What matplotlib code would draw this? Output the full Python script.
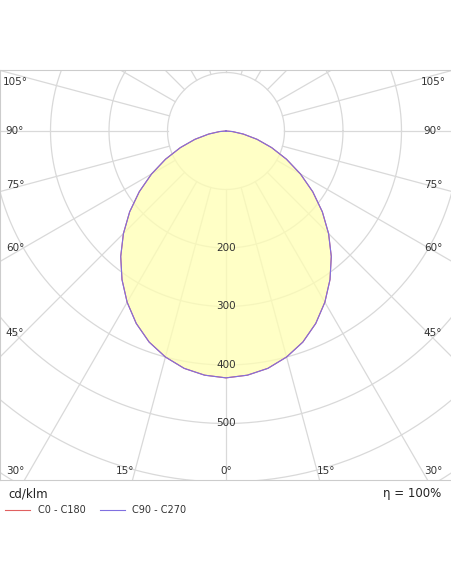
import numpy as np
import matplotlib
matplotlib.use("Agg")
import matplotlib.pyplot as plt

angles_deg = [0,5,10,15,20,25,30,35,40,45,50,55,60,65,70,75,80,85,90]
c0_c180 = [422,419,412,400,384,363,338,310,280,248,215,181,147,114,83,55,30,11,0]
c90_c270 = [422,419,412,400,384,363,338,310,280,248,215,181,147,114,83,55,30,11,0]
ring_values = [200,300,400,500]
eta_text = "η = 100%"

S = 0.585  # px per cd
W, H = 452, 584
fig = plt.figure(figsize=(W/100, H/100), dpi=100)
top_px, bot_px = 70, 480
ax = fig.add_axes([0, (H-bot_px)/H, 1, (bot_px-top_px)/H])
cx, cy = 226, 131
xmin, xmax = -cx/S, (W-cx)/S
ymax, ymin = (cy-top_px)/S, -(bot_px-cy)/S
ax.set_xlim(xmin, xmax); ax.set_ylim(ymin, ymax)
ax.set_aspect('auto')
ax.set_xticks([]); ax.set_yticks([])
for s in ax.spines.values():
    s.set_color('#cccccc'); s.set_linewidth(0.8)

grid = '#d9d9d9'
t = np.linspace(0, 2*np.pi, 400)
for r in range(100, 800, 100):
    ax.plot(r*np.cos(t), r*np.sin(t), color=grid, lw=0.9, zorder=1)
for a in range(0, 360, 15):
    ar = np.radians(a)
    ax.plot([100*np.sin(ar), 1000*np.sin(ar)], [-100*np.cos(ar), -1000*np.cos(ar)],
            color=grid, lw=0.9, zorder=1)

def curve(vals):
    th = np.radians(angles_deg)
    v = np.array(vals, float)
    th_all = np.concatenate([-th[::-1], th[1:]])
    v_all = np.concatenate([v[::-1], v[1:]])
    return v_all*np.sin(th_all), -v_all*np.cos(th_all)

x0, y0 = curve(c0_c180)
x9, y9 = curve(c90_c270)
ax.fill(x0, y0, color='#ffffb3', alpha=0.75, zorder=2, lw=0)
ax.plot(x0, y0, color='#e06060', lw=0.8, zorder=3)
ax.plot(x9, y9, color='#8070e0', lw=0.8, zorder=3)

for v in ring_values:
    ax.text(0, -v, str(v), ha='center', va='center', fontsize=7.5, color='#333333', zorder=4)

fs = 7.5
for a, xp in [(-30, 15), (-15, 125), (0, 226), (15, 326), (30, 433)]:
    ax.text((xp-cx)/S, -(471-cy)/S, f"{abs(a)}°", ha='center', va='center', fontsize=fs, color='#333333')
for a, yp in [(45, 333), (60, 248), (75, 185), (90, 131), (105, 82)]:
    ax.text((15-cx)/S, -(yp-cy)/S, f"{a}°", ha='center', va='center', fontsize=fs, color='#333333')
    ax.text((433-cx)/S, -(yp-cy)/S, f"{a}°", ha='center', va='center', fontsize=fs, color='#333333')

fig.text(8/W, 1-494/H, "cd/klm", fontsize=8.5, va='center', color='#222222')
fig.text(441/W, 1-494/H, eta_text, fontsize=8.5, va='center', ha='right', color='#222222')
fig.add_artist(plt.Line2D([5/W, 30/W], [1-510/H]*2, color='#e06060', lw=0.8))
fig.text(38/W, 1-510/H, "C0 - C180", fontsize=7, va='center', color='#333333')
fig.add_artist(plt.Line2D([100/W, 125/W], [1-510/H]*2, color='#8070e0', lw=0.8))
fig.text(132/W, 1-510/H, "C90 - C270", fontsize=7, va='center', color='#333333')

fig.savefig("out.png", dpi=100)
